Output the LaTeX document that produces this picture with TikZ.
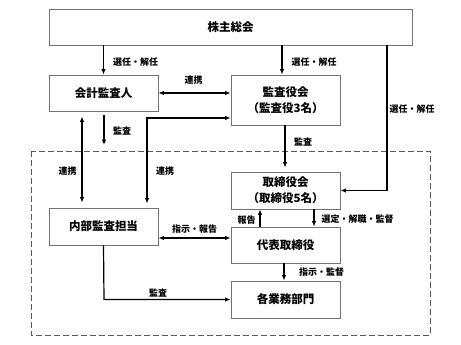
\documentclass[tikz,border=0pt]{standalone}
\usepackage{fontspec}
\newfontfamily\jp{Noto Sans CJK JP}
\usetikzlibrary{arrows.meta}
\begin{document}
\begin{tikzpicture}[x=1pt,y=-1pt,
  box/.style={draw=black!55,line width=0.8pt,fill=white,minimum width=109pt,inner sep=0pt,align=center,font=\jp\bfseries\fontsize{11.5}{16}\selectfont},
  lbl/.style={font=\jp\bfseries\fontsize{9}{10}\selectfont,inner sep=0pt},
  arr/.style={line width=1.2pt,-{Latex[length=5.5pt,width=4.5pt]}},
  darr/.style={line width=1.2pt,{Latex[length=5.5pt,width=4.5pt]}-{Latex[length=5.5pt,width=4.5pt]}}]
\path[use as bounding box,fill=white] (0,0) rectangle (461,345);
\draw[black!65,line width=1pt,dash pattern=on 6pt off 3pt] (31,151) rectangle (430,335);

\node[box,minimum width=363pt,minimum height=36pt] (kabu) at (230.5,27) {株主総会};
\node[box,minimum height=36pt] (kaikei) at (103.5,93) {会計監査人};
\node[box,minimum height=50pt] (kansa) at (285.5,100) {監査役会\\（監査役3名）};
\node[box,minimum height=37pt] (tori) at (285.5,190.5) {取締役会\\（取締役5名）};
\node[box,minimum height=37pt] (naibu) at (103.5,226.5) {内部監査担当};
\node[box,minimum height=36pt] (daihyo) at (285.5,245) {代表取締役};
\node[box,minimum height=37pt] (gyomu) at (285.5,299.5) {各業務部門};

% 株主総会 -> 会計監査人 / 監査役会
\draw[arr] (kabu.south -| kaikei.north) -- (kaikei.north);
\draw[arr] ([xshift=-3.5pt]kansa.north |- kabu.south) -- ([xshift=-3.5pt]kansa.north);
\node[lbl] (l1) at (135.5,62) {選任・解任};
\node[lbl] (l2) at (314,62) {選任・解任};

% 株主総会 -> 取締役会
\coordinate (rc) at (387,190.5);
\draw[arr] (rc |- kabu.south) -- (rc) -- (tori.east);
\node[lbl] (l3) at (412,109) {選任・解任};

% 連携 top
\draw[darr] (kaikei.east) -- (kaikei.east -| kansa.west);
\node[lbl] (l4) at (193.5,80) {連携};

% 監査 under 会計監査人
\coordinate (a1) at (104,115);
\coordinate (a2) at (104,145);
\draw[arr] (a1) -- (a2);
\node[lbl] (l5) at (122,131) {監査};

% 監査役会 -> 取締役会
\draw[arr,shorten >=4pt] ([xshift=-0.5pt]kansa.south) -- ([xshift=-0.5pt]tori.north);
\node[lbl] (l6) at (303,142) {監査};

% 連携 left
\draw[darr,shorten <=5pt,shorten >=5pt] ([xshift=-21.5pt]kaikei.south) -- ([xshift=-21.5pt]naibu.north);
\node[lbl] (l7) at (67.5,171) {連携};

% 連携 middle
\coordinate (mc) at (147,118);
\draw[darr,shorten >=4pt] (mc -| kansa.west) -- (mc) -- (mc |- naibu.north);
\node[lbl] (l8) at (165,171) {連携};

% 指示・報告
\coordinate (hc) at (158,238);
\draw[darr] (hc -| naibu.east) -- (hc -| daihyo.west);
\node[lbl] (l9) at (194.5,229) {指示・報告};

% 報告 / 選定
\draw[arr] ([xshift=-25.5pt]daihyo.north) -- ([xshift=-25.5pt]tori.south);
\node[lbl] (l10) at (246.5,220) {報告};
\draw[arr] ([xshift=28.5pt]tori.south) -- ([xshift=28.5pt]daihyo.north);
\node[lbl] (l11) at (357.5,219) {選定・解職・監督};

% 指示・監督
\draw[arr] ([xshift=-1.5pt]daihyo.south) -- ([xshift=-1.5pt]gyomu.north);
\node[lbl] (l12) at (321.5,272) {指示・監督};

% 監査 bottom
\coordinate (bc) at (104,299.5);
\draw[arr] (naibu.south) -- (bc) -- (gyomu.west);
\node[lbl] (l13) at (158,293) {監査};
\end{tikzpicture}
\end{document}
